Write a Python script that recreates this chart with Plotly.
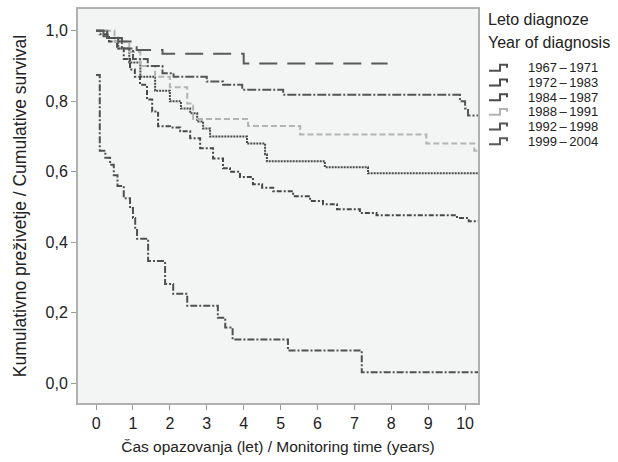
import plotly.graph_objects as go

# ---- data (time in years, cumulative survival after each step) ----
groups = ["1967\u2009–\u20091971", "1972\u2009–\u20091983", "1984\u2009–\u20091987",
          "1988\u2009–\u20091991", "1992\u2009–\u20091998", "1999\u2009–\u20092004"]

t_6771 = [0.0, 0.10, 0.25, 0.38, 0.48, 0.58, 0.75, 0.92, 1.00, 1.06, 1.11, 1.41, 1.87, 2.09, 2.47, 3.30, 3.50, 3.70, 5.20, 7.20, 10.35]
s_6771 = [0.875, 0.66, 0.64, 0.62, 0.59, 0.56, 0.525, 0.497, 0.469, 0.438, 0.41, 0.347, 0.282, 0.254, 0.22, 0.186, 0.158, 0.124, 0.093, 0.031, 0.031]

t_7283 = [0.0, 0.10, 0.35, 0.57, 0.75, 0.92, 1.05, 1.19, 1.38, 1.52, 1.68, 2.00, 2.28, 2.55, 2.82, 3.17, 3.44, 3.63, 3.90, 4.25, 4.50, 4.80, 5.34, 5.80, 6.15, 6.53, 7.15, 7.60, 9.78, 10.10, 10.35]
s_7283 = [1.0, 0.99, 0.97, 0.95, 0.92, 0.89, 0.87, 0.847, 0.805, 0.771, 0.729, 0.726, 0.715, 0.695, 0.667, 0.638, 0.61, 0.60, 0.585, 0.565, 0.555, 0.545, 0.531, 0.517, 0.508, 0.494, 0.483, 0.477, 0.469, 0.46, 0.46]

t_8487 = [0.0, 0.30, 0.60, 0.90, 1.20, 1.60, 2.00, 2.30, 2.55, 2.74, 2.90, 3.09, 4.09, 4.58, 4.63, 6.20, 7.37, 10.35]
s_8487 = [1.0, 0.98, 0.95, 0.91, 0.87, 0.83, 0.80, 0.78, 0.766, 0.743, 0.723, 0.70, 0.68, 0.65, 0.63, 0.613, 0.596, 0.596]

t_8891 = [0.0, 0.50, 0.90, 1.20, 1.60, 2.00, 2.47, 2.63, 4.12, 5.53, 8.95, 10.25, 10.35]
s_8891 = [1.0, 0.97, 0.94, 0.90, 0.87, 0.84, 0.794, 0.75, 0.73, 0.706, 0.68, 0.66, 0.66]

t_9298 = [0.0, 0.30, 0.70, 1.00, 1.40, 1.80, 2.10, 3.00, 3.44, 3.96, 5.07, 9.86, 10.00, 10.08, 10.35]
s_9298 = [1.0, 0.98, 0.95, 0.92, 0.90, 0.88, 0.87, 0.856, 0.847, 0.833, 0.819, 0.80, 0.78, 0.76, 0.757]

t_9904 = [0.0, 0.20, 0.60, 1.10, 1.80, 4.00, 7.90]
s_9904 = [1.0, 0.985, 0.97, 0.946, 0.935, 0.907, 0.907]

xticks = list(range(0, 11))
yticks = [0.0, 0.2, 0.4, 0.6, 0.8, 1.0]

series = [
    (groups[0], t_6771, s_6771, "#505050", "7px,2px,2px,2px", 2),
    (groups[1], t_7283, s_7283, "#484848", "5px,2px,2px,2px", 2),
    (groups[2], t_8487, s_8487, "#4a4a4a", "2px,1px", 2),
    (groups[3], t_8891, s_8891, "#b4b4b4", "6px,3px", 2),
    (groups[4], t_9298, s_9298, "#555555", "9px,2px,2px,2px", 2),
    (groups[5], t_9904, s_9904, "#5a5a5a", "18px,10px", 2),
]

fig = go.Figure()
for name, t, s, col, dash, w in series:
    fig.add_trace(go.Scatter(x=t, y=s, mode="lines", name=name, line_shape="hv",
                             line=dict(color=col, width=w, dash=dash), showlegend=False))

L, R, T, B = 78, 140, 7, 59
W, H = 618, 462
pw, ph = W - L - R, H - T - B

def px2paper(x, y):
    return (x - L) / pw, (H - B - y) / ph

# legend drawn as text + small step glyphs
font = "Liberation Sans, Arial, sans-serif"
ann = []
for i, txt in enumerate(["Leto diagnoze", "Year of diagnosis"]):
    px, py = px2paper(486, 18 + i * 23)
    ann.append(dict(x=px, y=py, xref="paper", yref="paper", text=txt, showarrow=False,
                    xanchor="left", yanchor="middle", font=dict(size=16, color="#222", family=font)))
shapes = []
for i, (name, t, s, col, dash, w) in enumerate(series):
    yc = 66 + i * 14.8
    px, py = px2paper(527, yc)
    ann.append(dict(x=px, y=py, xref="paper", yref="paper", text=name, showarrow=False,
                    xanchor="left", yanchor="middle", borderpad=0,
                    font=dict(size=13, color="#222", family=font)))
    pts = [(489, yc + 3), (500, yc + 3), (500, yc - 3), (507, yc - 3), (507, yc)]
    pp = [px2paper(a, b) for a, b in pts]
    path = "M " + " L ".join(f"{a:.4f},{b:.4f}" for a, b in pp)
    shapes.append(dict(type="path", path=path, xref="paper", yref="paper",
                       line=dict(color=col, width=2)))

fig.update_layout(
    width=W, height=H,
    margin=dict(l=L, r=R, t=T, b=B, pad=0),
    paper_bgcolor="white", plot_bgcolor="#f3f4f4",
    separators=", ",
    font=dict(family=font, size=15, color="#222"),
    annotations=ann, shapes=shapes, showlegend=False,
)
fig.update_xaxes(range=[-0.49, 10.35], tickvals=xticks, ticks="outside", ticklen=5, tickcolor="#999",
                 showgrid=False, zeroline=False, showline=True, linecolor="#b0b0b0", linewidth=2, mirror=True,
                 title=dict(text="Čas opazovanja (let) / Monitoring time (years)", font=dict(size=15.5), standoff=10),
                 tickfont=dict(size=16))
fig.update_yaxes(range=[-0.056, 1.062], tickvals=yticks, tickformat=".1f", ticks="outside", ticklen=5, tickcolor="#999",
                 showgrid=False, zeroline=False, showline=True, linecolor="#b0b0b0", linewidth=2, mirror=True,
                 title=dict(text="Kumulativno preživetje / Cumulative survival", font=dict(size=17.5), standoff=14),
                 tickfont=dict(size=16))

fig.write_html("out.html")
